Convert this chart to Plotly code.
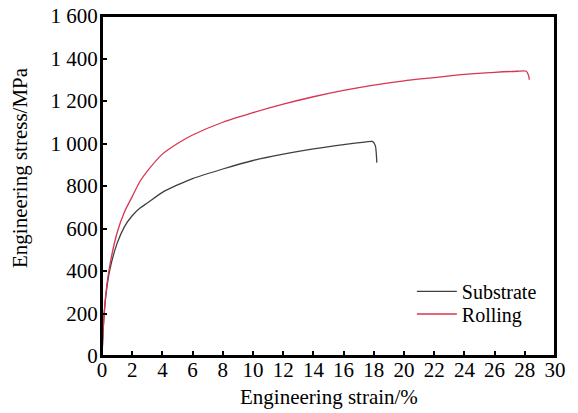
import plotly.graph_objects as go

sub_strain = [0, 0.1, 0.25, 0.5, 1, 1.5, 2, 2.5, 3, 4, 5, 6, 8, 10, 12, 14, 16, 17.5, 17.9, 18.1, 18.2]
sub_stress = [0, 150, 280, 400, 530, 610, 660, 695, 720, 770, 805, 835, 880, 920, 950, 975, 995, 1008, 1010, 990, 910]

roll_strain = [0, 0.1, 0.25, 0.5, 1, 1.5, 2, 2.5, 3, 4, 5, 6, 8, 10, 12, 14, 16, 18, 20, 22, 24, 26, 27.5, 28.1, 28.25, 28.3]
roll_stress = [0, 150, 290, 420, 580, 680, 750, 820, 870, 950, 1000, 1040, 1100, 1145, 1185, 1220, 1250, 1275, 1295, 1310, 1325, 1335, 1340, 1340, 1320, 1300]

x_ticks = list(range(0, 31, 2))
y_ticks = list(range(0, 1601, 200))
y_tick_text = ["0", "200", "400", "600", "800", "1 000", "1 200", "1 400", "1 600"]

font = "Liberation Serif, Times New Roman, serif"
FS = 21

fig = go.Figure()
fig.add_trace(go.Scatter(x=sub_strain, y=sub_stress, mode="lines", name="Substrate", legend="legend",
                         line=dict(color="#404040", width=1.3, shape="spline", smoothing=0.6)))
fig.add_trace(go.Scatter(x=roll_strain, y=roll_stress, mode="lines", name="Rolling", legend="legend2",
                         line=dict(color="#d8354f", width=1.3, shape="spline", smoothing=0.6)))

legend_common = dict(xanchor="left", yanchor="middle", bgcolor="rgba(0,0,0,0)",
                     font=dict(family=font, size=20), itemwidth=40)

fig.update_layout(
    width=578, height=413,
    margin=dict(l=102, r=23, t=16, b=57, autoexpand=False),
    paper_bgcolor="white", plot_bgcolor="white",
    font=dict(family=font, size=FS, color="black"),
    showlegend=True,
    legend=dict(x=0.684, y=0.19, **legend_common),
    legend2=dict(x=0.684, y=0.1235, **legend_common),
    annotations=[
        dict(text="Engineering strain/%", xref="paper", yref="paper", x=0.5, y=-0.12,
             xanchor="center", yanchor="middle", showarrow=False, font=dict(size=FS)),
        dict(text="Engineering stress/MPa", xref="paper", yref="paper", x=-0.181, y=0.553,
             xanchor="center", yanchor="middle", textangle=-90, showarrow=False, font=dict(size=FS)),
    ],
    shapes=[dict(type="rect", xref="paper", yref="paper", x0=0, y0=0, x1=1, y1=1,
                 line=dict(color="black", width=2), fillcolor="rgba(0,0,0,0)", layer="above")],
)
fig.update_xaxes(range=[0, 30], tickvals=x_ticks, ticks="inside", ticklen=5, tickwidth=1.5,
                 tickcolor="black", showline=True, linecolor="black", linewidth=2, mirror=True,
                 showgrid=False, zeroline=False, automargin=False, ticklabelstandoff=-6,
                 ticklabeloverflow="allow")
fig.update_yaxes(range=[0, 1600], tickvals=y_ticks, ticktext=y_tick_text, ticks="inside", ticklen=5,
                 tickwidth=1.5, tickcolor="black", showline=True, linecolor="black", linewidth=2,
                 mirror=True, showgrid=False, zeroline=False, automargin=False, ticklabelstandoff=-2,
                 ticklabeloverflow="allow")

fig.write_html("out.html", config={"displayModeBar": False},
               post_script="document.body.style.margin='0';")
